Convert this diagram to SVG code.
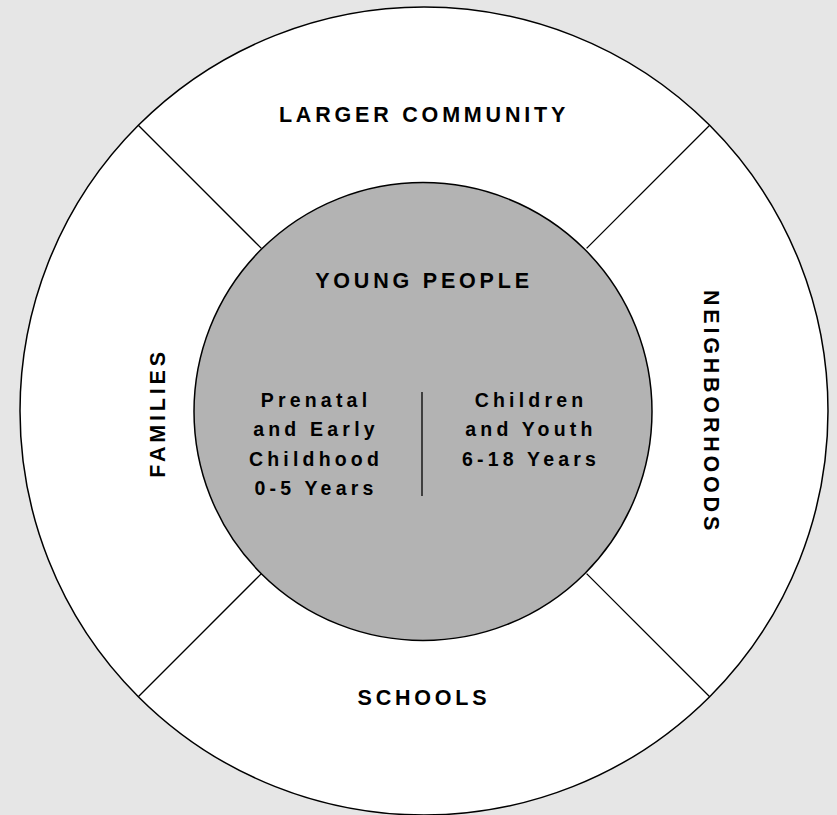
<svg xmlns="http://www.w3.org/2000/svg" width="837" height="815" viewBox="0 0 837 815">
<style>
.bg{fill:#e6e6e6}
.ring{fill:#ffffff;stroke:#000;stroke-width:1.5}
.core{fill:#b3b3b3;stroke:#000;stroke-width:1.5}
.div{stroke:#000;stroke-width:1.3;fill:none}
.lbl{font-family:"Liberation Sans",Arial,sans-serif;font-weight:bold;font-size:21.5px;letter-spacing:3.8px;fill:#000;text-anchor:middle}
.in{font-family:"Liberation Sans",Arial,sans-serif;font-weight:bold;font-size:19.5px;letter-spacing:4.2px;fill:#000;text-anchor:middle}
</style>
<rect class="bg" x="0" y="0" width="837" height="815"/>
<g id="outer-ring">
<circle class="ring" cx="424" cy="411" r="404"/>
</g>
<g id="connectors">
<line class="div" x1="138.3" y1="125.3" x2="261.4" y2="248.4"/>
<line class="div" x1="709.7" y1="125.3" x2="586.6" y2="248.4"/>
<line class="div" x1="138.3" y1="696.7" x2="261.4" y2="573.6"/>
<line class="div" x1="709.7" y1="696.7" x2="586.6" y2="573.6"/>
</g>
<g id="larger-community">
<text class="lbl" x="424" y="122">LARGER COMMUNITY</text>
</g>
<g id="families">
<text class="lbl" transform="translate(165,413) rotate(-90)" x="0" y="0">FAMILIES</text>
</g>
<g id="neighborhoods">
<text class="lbl" transform="translate(704,412) rotate(90)" x="0" y="0">NEIGHBORHOODS</text>
</g>
<g id="schools">
<text class="lbl" x="424" y="705">SCHOOLS</text>
</g>
<g id="young-people">
<circle class="core" cx="423" cy="411.5" r="229"/>
<text class="lbl" x="424" y="288">YOUNG PEOPLE</text>
<line class="div" x1="422" y1="392" x2="422" y2="496"/>
<text class="in" x="316" y="407">Prenatal</text>
<text class="in" x="316" y="436">and Early</text>
<text class="in" x="316" y="466">Childhood</text>
<text class="in" x="316" y="495">0-5 Years</text>
<text class="in" x="531" y="407">Children</text>
<text class="in" x="531" y="436">and Youth</text>
<text class="in" x="531" y="466">6-18 Years</text>
</g>
</svg>
